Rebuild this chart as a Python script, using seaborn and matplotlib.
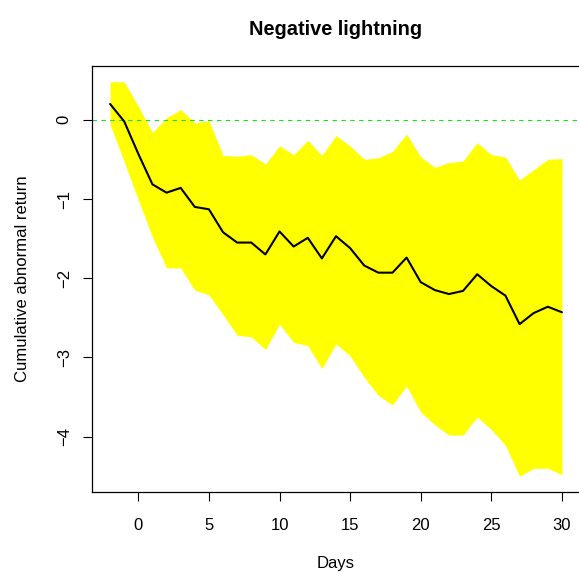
import numpy as np
import pandas as pd
import matplotlib

matplotlib.use("Agg")
import matplotlib.pyplot as plt
import seaborn as sns

# days relative to the event
days = list(range(-2, 31))

# cumulative abnormal return (mean)
car_mean = [0.20, -0.02, -0.43, -0.815, -0.92, -0.86, -1.10, -1.13, -1.42, -1.55,
            -1.55, -1.70, -1.41, -1.60, -1.49, -1.75, -1.47, -1.62, -1.84, -1.93,
            -1.93, -1.74, -2.05, -2.15, -2.20, -2.16, -1.95, -2.10, -2.22, -2.58,
            -2.44, -2.36, -2.43]

# upper confidence bound
car_upper = [0.48, 0.48, 0.17, -0.16, 0.025, 0.13, -0.04, -0.01, -0.45, -0.46,
             -0.44, -0.56, -0.33, -0.44, -0.26, -0.45, -0.20, -0.33, -0.50, -0.48,
             -0.40, -0.18, -0.47, -0.60, -0.54, -0.52, -0.29, -0.44, -0.47, -0.76,
             -0.63, -0.50, -0.49]

# lower confidence bound
car_lower = [-0.06, -0.53, -1.01, -1.48, -1.87, -1.87, -2.15, -2.21, -2.46, -2.72,
             -2.74, -2.90, -2.58, -2.81, -2.85, -3.14, -2.83, -2.98, -3.25, -3.48,
             -3.60, -3.36, -3.69, -3.85, -3.98, -3.98, -3.75, -3.91, -4.11, -4.50,
             -4.40, -4.40, -4.48]

df = pd.DataFrame({"day": days, "car": car_mean, "upper": car_upper, "lower": car_lower})

sns.set_style("ticks")
plt.rcParams["font.family"] = ["Liberation Sans", "DejaVu Sans"]
plt.rcParams["text.color"] = "black"
plt.rcParams["axes.labelcolor"] = "black"

fig = plt.figure(figsize=(5.79, 5.72), dpi=100)
# R-like plot region
ax = fig.add_axes([92 / 579, 80 / 572, 488 / 579, 426 / 572])

# confidence band
ax.fill_between(df["day"], df["lower"], df["upper"], color="yellow", linewidth=0, zorder=1)
# zero reference
ax.axhline(0, color="#22dd22", linestyle=(0, (4, 4)), linewidth=0.8, zorder=2)
# mean line
sns.lineplot(data=df, x="day", y="car", color="black", linewidth=1.5, ax=ax, zorder=3)

# R default 4% padding
xr = 32 * 0.04
ax.set_xlim(-2 - xr, 30 + xr)
ymin, ymax = min(car_lower), max(car_upper)
yr = (ymax - ymin) * 0.04
ax.set_ylim(ymin - yr, ymax + yr)

ax.set_xticks([0, 5, 10, 15, 20, 25, 30])
ax.set_yticks([-4, -3, -2, -1, 0])
ax.set_yticklabels(["\u22124", "\u22123", "\u22122", "\u22121", "0"], rotation=90, va="center")

ax.tick_params(axis="both", direction="out", length=6.5, width=0.8, labelsize=12, colors="black")
ax.tick_params(axis="x", pad=12.5)
ax.tick_params(axis="y", pad=8)

for s in ax.spines.values():
    s.set_visible(True)
    s.set_linewidth(0.9)
    s.set_color("black")

ax.set_xlabel("Days", fontsize=12, labelpad=16.5)
ax.set_ylabel("Cumulative abnormal return", fontsize=12, labelpad=19.5)
ax.set_title("Negative lightning", fontsize=14.4, fontweight="bold", pad=22.5, color="black")

fig.savefig("out.png", dpi=100)
